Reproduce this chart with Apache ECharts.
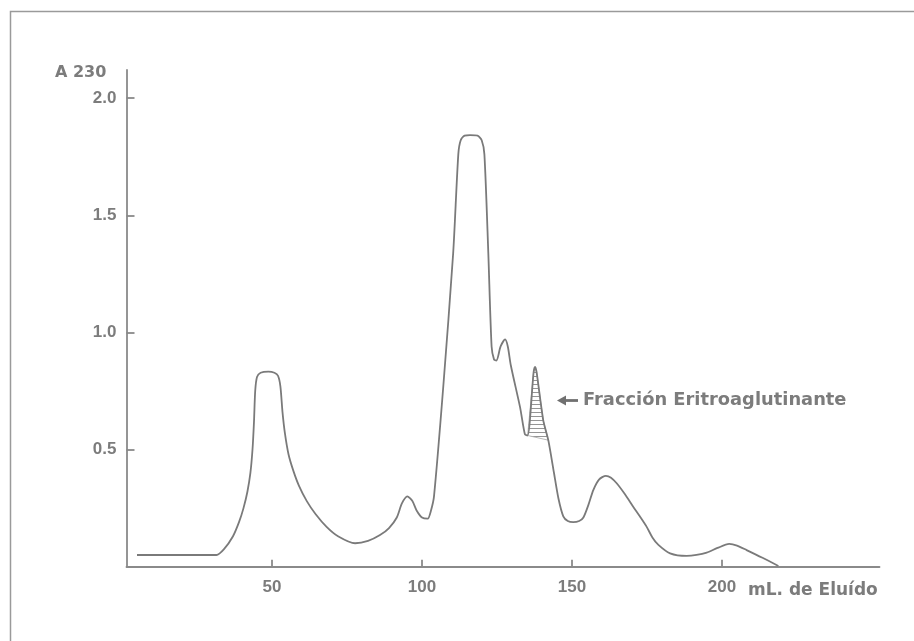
<!DOCTYPE html>
<html>
<head>
<meta charset="utf-8">
<script src="https://cdn.jsdelivr.net/npm/echarts@6/dist/echarts.min.js"></script>
<style>
html, body { margin: 0; padding: 0; background: #fff; }
#chart { width: 914px; height: 641px; }
</style>
</head>
<body>
<div id="chart"></div>
<script>
// elution profile
const elutionMl = [5, 31.5, 34, 37, 39, 40.5, 41.8, 42.8, 43.5, 44, 44.4, 45, 46.2, 48.8, 50.8, 52, 52.8, 53.5, 54.3, 55.5, 57.1,
  59, 61.6, 64.5, 68.2, 72, 77.7, 82, 86, 89, 91.6, 93.3, 95.1, 96.8, 98.2, 100, 101.9, 103, 104, 107.1, 110.4,
  112.1, 112.9, 114.2, 116, 118.5, 119.9, 120.8, 122.1, 123.2, 124, 124.8, 126.2, 127.7, 128.6, 129.6, 132.7, 134.3, 135.2, 137.2, 137.7,
  138.2, 140.4, 142.1, 144, 145.5, 147.1, 148.6, 150.4, 152.4, 153.8, 155.5, 157.1, 159, 161.3, 163, 164.9, 167.6, 170.4, 172.6, 174.9,
  176.8, 178.8, 182.7, 188.2, 191.5, 194.9, 198.5, 202.4, 205, 208.2, 213.5, 218.8];
const absorbance = [0.05, 0.05, 0.075, 0.13, 0.19, 0.25, 0.32, 0.40, 0.50, 0.62, 0.75, 0.81, 0.828, 0.833, 0.828, 0.815, 0.77, 0.66, 0.57, 0.48, 0.41,
  0.345, 0.28, 0.225, 0.17, 0.13, 0.10, 0.11, 0.135, 0.165, 0.21, 0.27, 0.30, 0.28, 0.24, 0.21, 0.205, 0.24, 0.30, 0.77, 1.34,
  1.76, 1.82, 1.84, 1.842, 1.84, 1.82, 1.76, 1.34, 0.94, 0.885, 0.88, 0.94, 0.97, 0.94, 0.86, 0.68, 0.565, 0.56, 0.83, 0.853,
  0.83, 0.626, 0.54, 0.40, 0.29, 0.215, 0.195, 0.19, 0.195, 0.21, 0.265, 0.327, 0.372, 0.388, 0.38, 0.356, 0.31, 0.256, 0.215, 0.17,
  0.125, 0.093, 0.057, 0.046, 0.05, 0.06, 0.08, 0.097, 0.09, 0.071, 0.038, 0.003];

// shaded (erythroagglutinating) fraction
const hatchMl = [135.2, 137.2, 137.7, 138.2, 140.4, 142.1];
const hatchAbs = [0.56, 0.83, 0.853, 0.83, 0.626, 0.54];

const xTicks = [50, 100, 150, 200];
const yTicks = [0.5, 1.0, 1.5, 2.0];

const chart = echarts.init(document.getElementById('chart'));

const stripe = document.createElement('canvas');
stripe.width = 4;
stripe.height = 4;
const sctx = stripe.getContext('2d');
sctx.fillStyle = '#959595';
sctx.fillRect(0, 0, 4, 1);

const grey = '#7c7c7c';
const axisGrey = '#8a8a8a';
const tickFont = { color: grey, fontSize: 17, fontWeight: 'bold', fontFamily: '"Liberation Sans", Arial, sans-serif' };
const noteFont = 'bold 17px "DejaVu Sans", sans-serif';

chart.setOption({
  animation: false,
  grid: { left: 126.5, right: 34.5, top: 70, bottom: 74.3 },
  xAxis: {
    type: 'value', min: 1.5, max: 252.5,
    splitLine: { show: false },
    axisLine: { lineStyle: { color: axisGrey, width: 1.8 } },
    axisTick: { inside: true, length: 7, customValues: xTicks, lineStyle: { color: axisGrey, width: 1.8 } },
    axisLabel: { customValues: xTicks, margin: 12, ...tickFont }
  },
  yAxis: {
    type: 'value', min: 0, max: 2.12,
    splitLine: { show: false },
    axisLine: { show: true, lineStyle: { color: axisGrey, width: 1.8 } },
    axisTick: { show: true, inside: true, length: 8, customValues: yTicks, lineStyle: { color: axisGrey, width: 1.8 } },
    axisLabel: { customValues: yTicks, margin: 10, formatter: v => v.toFixed(1), ...tickFont }
  },
  series: [
    {
      type: 'custom',
      silent: true,
      z: 1,
      data: [[hatchMl[0], hatchAbs[0]]],
      renderItem: (params, api) => ({
        type: 'polygon',
        shape: { points: hatchMl.map((x, i) => api.coord([x, hatchAbs[i]])) },
        style: { fill: { image: stripe, repeat: 'repeat' }, stroke: '#a8a8a8', lineWidth: 0.8 }
      })
    },
    {
      type: 'line',
      z: 3,
      data: elutionMl.map((x, i) => [x, absorbance[i]]),
      showSymbol: false,
      smooth: 0.25,
      lineStyle: { color: '#7a7a7a', width: 1.8 }
    }
  ],
  graphic: [
    { type: 'polyline', silent: true, shape: { points: [[10.5, 641], [10.5, 11.5], [914, 11.5]] }, style: { stroke: '#9a9a9a', lineWidth: 1.5, fill: null } },
    { type: 'text', x: 55, y: 72.5, style: { text: 'A 230', font: 'bold 16px "DejaVu Sans", sans-serif', fill: grey, textVerticalAlign: 'middle' } },
    { type: 'text', x: 748, y: 591, style: { text: 'mL. de Eluído', font: noteFont, fill: grey, textVerticalAlign: 'middle' } },
    { type: 'polygon', shape: { points: [[557, 400.5], [566, 395.5], [566, 405.5]] }, style: { fill: '#707070' } },
    { type: 'line', shape: { x1: 564, y1: 400.5, x2: 578, y2: 400.5 }, style: { stroke: '#707070', lineWidth: 2.8 } },
    { type: 'text', x: 583, y: 400.5, scaleX: 1.05, style: { text: 'Fracción Eritroaglutinante', font: noteFont, fill: grey, textVerticalAlign: 'middle' } }
  ]
});
</script>
</body>
</html>
